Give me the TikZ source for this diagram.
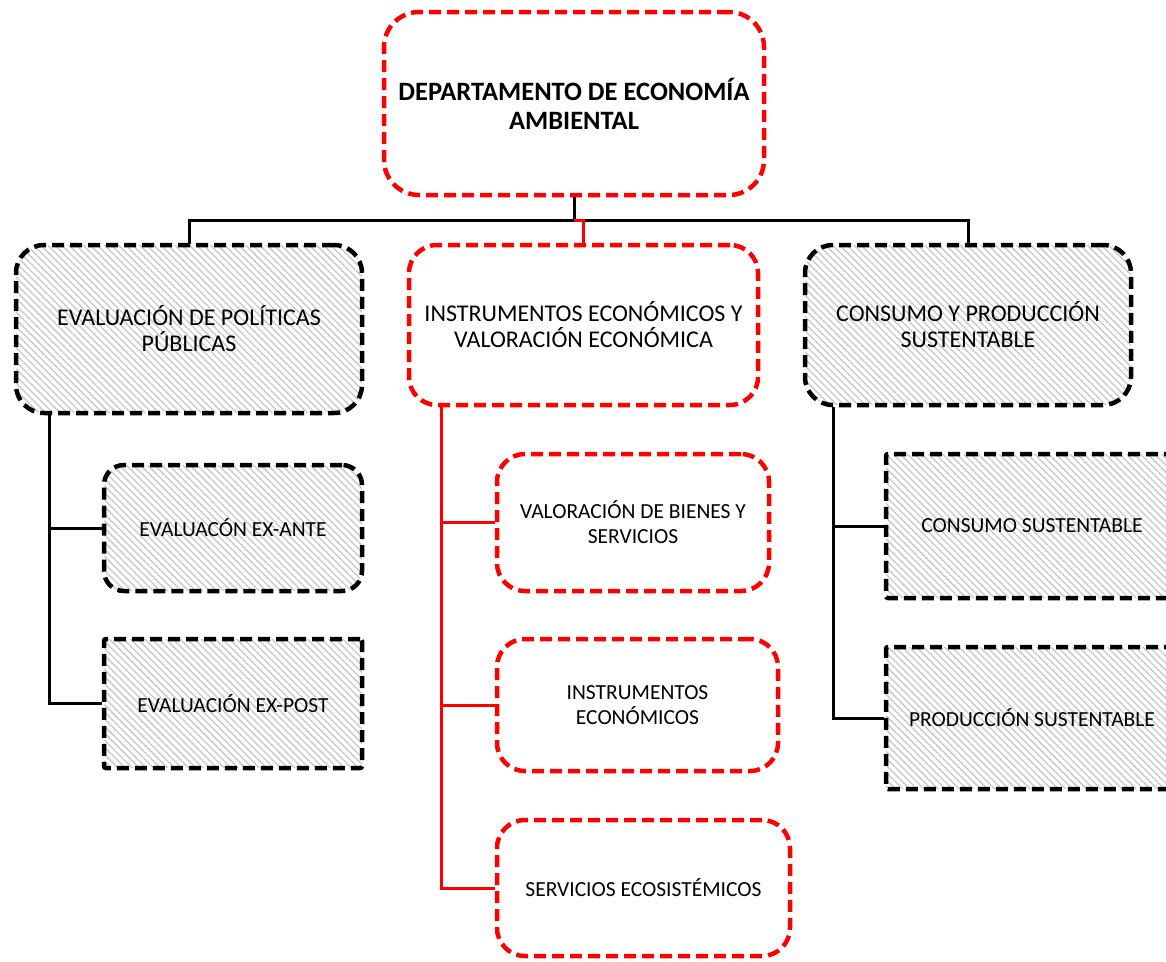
\documentclass[tikz,border=0pt]{standalone}
\usepackage{fontspec}
\setmainfont{Carlito}
\usetikzlibrary{positioning, patterns.meta}

\begin{document}
\begin{tikzpicture}[x=1pt, y=-1pt,
    box/.style={line width=4.5pt, dash pattern=on 12pt off 6pt, align=center, inner sep=0pt},
    redbox/.style={box, draw=red, rounded corners=28pt},
    graybox/.style={box, draw=black, rounded corners=28pt,
      pattern={Lines[angle=-45, distance=5pt, line width=1.3pt]}, pattern color=black!22},
    big/.style={font=\fontsize{24}{26}\selectfont},
    small/.style={font=\fontsize{21.5}{25}\selectfont},
    link/.style={line width=3pt}]
  \useasboundingbox (0,0) rectangle (1166,961);

  \begin{scope}
    \node (dept) [redbox, rounded corners=35pt, minimum width=380pt, minimum height=183pt,
      font=\fontsize{26.5}{29}\selectfont\bfseries] at (574,103.5) {DEPARTAMENTO DE ECONOMÍA\\AMBIENTAL};
    \node (evalpp) [graybox, big, minimum width=346pt, minimum height=168pt] at (189,329) {EVALUACIÓN DE POLÍTICAS\\PÚBLICAS};
    \node (instr) [redbox, big, minimum width=349pt, minimum height=160pt] at (583.5,325) {INSTRUMENTOS ECONÓMICOS Y\\VALORACIÓN ECONÓMICA};
    \node (cons) [graybox, big, minimum width=326pt, minimum height=160pt] at (968,325) {CONSUMO Y PRODUCCIÓN\\SUSTENTABLE};
  \end{scope}

  \begin{scope}
    \node (exante) [graybox, small, rounded corners=20pt, minimum width=258pt, minimum height=126pt] at (233,528) {EVALUACÓN EX-ANTE};
    \node (expost) [graybox, small, rounded corners=2pt, minimum width=258pt, minimum height=129pt] at (233,703.5) {EVALUACIÓN EX-POST};
    \node (valor) [redbox, small, minimum width=272pt, minimum height=137pt] at (633,522.5) {VALORACIÓN DE BIENES Y\\SERVICIOS};
    \node (instrec) [redbox, small, minimum width=281pt, minimum height=132pt] at (637.5,705) {INSTRUMENTOS\\ECONÓMICOS};
    \node (servic) [redbox, small, minimum width=293pt, minimum height=136pt] at (643.5,888) {SERVICIOS ECOSISTÉMICOS};
    \node (consumo) [graybox, small, rounded corners=2pt, minimum width=292pt, minimum height=144pt] at (1032,526) {CONSUMO SUSTENTABLE};
    \node (produc) [graybox, small, rounded corners=2pt, minimum width=292pt, minimum height=142pt] at (1032,718) {PRODUCCIÓN SUSTENTABLE};
  \end{scope}

  \coordinate (bar) at (dept.south |- 0,220);
  \draw [link] (dept.south) -- (bar) -| (evalpp.north);
  \draw [link] (bar) -| (cons.north);
  \draw [link, red] (bar) -| (instr.north);

  \draw [link] ([xshift=34pt]evalpp.south west) |- (exante.west);
  \draw [link] ([xshift=34pt]evalpp.south west) |- (expost.west);

  \begin{scope}[link, red]
    \draw ([xshift=35pt]instr.south west) |- (valor.west);
    \draw ([xshift=35pt]instr.south west) |- (instrec.west);
    \draw ([xshift=35pt]instr.south west) |- (servic.west);
  \end{scope}

  \draw [link] ([xshift=31pt]cons.south west) |- (consumo.west);
  \draw [link] ([xshift=31pt]cons.south west) |- (produc.west);
\end{tikzpicture}
\end{document}
